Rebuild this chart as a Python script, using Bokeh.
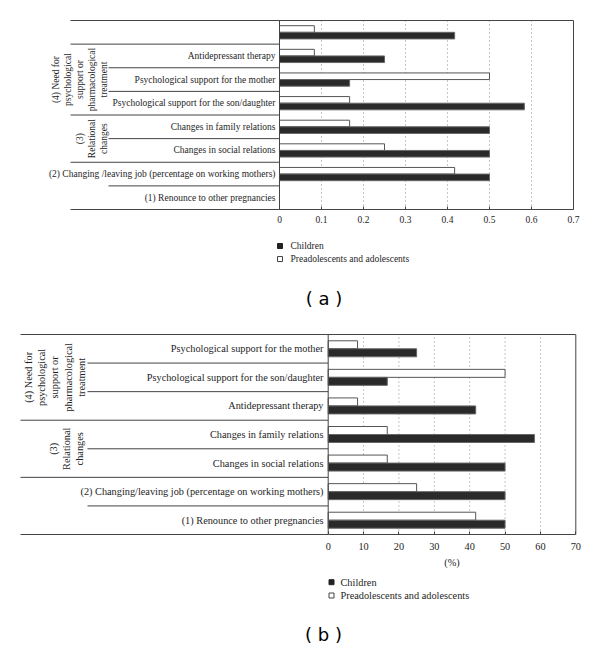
import math
from bokeh.plotting import figure
from bokeh.models import Range1d, LinearAxis, FixedTicker, NumeralTickFormatter
from bokeh.layouts import column
from bokeh.core.properties import value
from bokeh.embed import file_html
from bokeh.resources import INLINE

# ---------------- data ----------------
series_names = ["Children", "Preadolescents and adolescents"]

# panel (a): rows listed top to bottom (proportions)
rows_a = ["",
          "Antidepressant therapy",
          "Psychological support for the mother",
          "Psychological support for the son/daughter",
          "Changes in family relations",
          "Changes in social relations",
          "(2) Changing /leaving job (percentage on working mothers)",
          "(1) Renounce to other pregnancies"]
children_a = [0.417, 0.25, 0.167, 0.583, 0.5, 0.5, 0.5, 0.0]
preado_a = [0.083, 0.083, 0.5, 0.167, 0.167, 0.25, 0.417, 0.0]
ticks_a = [0, 0.1, 0.2, 0.3, 0.4, 0.5, 0.6, 0.7]
groups_a = [("(4) Need for\npsychological\nsupport or\npharmacological\ntreatment", 1, 3),
            ("(3)\nRelational\nchanges", 4, 5)]
full_seps_a = [1, 4, 6, 8]
sub_seps_a = [2, 3, 5, 7]

# panel (b): rows listed top to bottom (%)
rows_b = ["Psychological support for the mother",
          "Psychological support for the son/daughter",
          "Antidepressant therapy",
          "Changes in family relations",
          "Changes in social relations",
          "(2) Changing/leaving job (percentage on working mothers)",
          "(1) Renounce to other pregnancies"]
children_b = [25.0, 16.7, 41.7, 58.3, 50.0, 50.0, 50.0]
preado_b = [8.3, 50.0, 8.3, 16.7, 16.7, 25.0, 41.7]
ticks_b = [0, 10, 20, 30, 40, 50, 60, 70]
groups_b = [("(4) Need for\npsychological\nsupport or\npharmacological\ntreatment", 0, 2),
            ("(3)\nRelational\nchanges", 3, 4)]
full_seps_b = [3, 5, 7]
sub_seps_b = [1, 2, 4, 6]

W = 592
SERIF = "Liberation Serif"
TXT = "#1e1e1e"
LINE = "#444444"


def make_panel(rows, children, preado, ticks, groups, full_seps, sub_seps, H,
               x0px, x1px, ytop, ybot, full_left, sub_left, label_right,
               group_xs, fs, legend_mx, legend_tx, legend_ys, caption, cap_xy,
               tick_standoff, axis_label=None, fmt="0.[0]"):
    n = len(rows)
    xmax = ticks[-1]
    sx = (x1px - x0px) / xmax
    sy = (ybot - ytop) / n

    def xd(px):
        return (px - x0px) / sx

    def yd(py):
        return n - (py - ytop) / sy

    p = figure(width=W, height=H, x_range=Range1d(xd(0), xd(W)),
               y_range=Range1d(yd(H), yd(0)), x_axis_type=None, y_axis_type=None,
               toolbar_location=None, output_backend="svg", min_border=0,
               min_border_left=0, min_border_right=0, min_border_top=0,
               min_border_bottom=0, outline_line_color=None)
    p.background_fill_color = "white"
    p.border_fill_color = "white"

    # dotted grid
    inner = ticks[1:-1]
    p.segment(x0=inner, y0=[0] * len(inner), x1=inner, y1=[n] * len(inner),
              line_color="#8c8c8c", line_dash="1 3", line_width=1)

    yc = [n - i - 0.5 for i in range(n)]
    h = 0.28
    p.hbar(y=[v + h / 2 for v in yc], left=0, right=preado, height=h,
           fill_color="white", line_color="#555555", line_width=1)
    p.hbar(y=[v - h / 2 for v in yc], left=0, right=children, height=h,
           fill_color="#2a2a2a", line_color="#666666", line_width=1)

    # frame lines
    fl = xd(full_left)
    sl = xd(sub_left)
    p.segment(x0=[fl, 0, xmax], y0=[n, 0, 0], x1=[xmax, 0, xmax], y1=[n, n, n],
              line_color=LINE, line_width=1)
    p.segment(x0=[fl] * len(full_seps), y0=[n - k for k in full_seps],
              x1=[0] * len(full_seps), y1=[n - k for k in full_seps],
              line_color=LINE, line_width=1)
    p.segment(x0=[sl] * len(sub_seps), y0=[n - k for k in sub_seps],
              x1=[0] * len(sub_seps), y1=[n - k for k in sub_seps],
              line_color=LINE, line_width=1)

    # row labels
    p.text(x=[xd(label_right)] * n, y=yc, text=rows, text_align="right",
           text_baseline="middle", text_font=value(SERIF),
           text_font_size=f"{fs}px", text_color=TXT)

    # group labels (rotated)
    for (txt, r0, r1), gx in zip(groups, group_xs):
        gy = n - (r0 + r1 + 1) / 2
        p.text(x=[xd(gx)], y=[gy], text=[txt], angle=math.pi / 2,
               text_align="center", text_baseline="middle",
               text_font=value(SERIF), text_font_size=f"{fs}px",
               text_color=TXT, text_line_height=1.2)

    # x axis
    ax = LinearAxis(fixed_location=0, bounds=(0, xmax),
                    ticker=FixedTicker(ticks=ticks),
                    formatter=NumeralTickFormatter(format=fmt))
    ax.major_tick_in = 3
    ax.major_tick_out = 0
    ax.minor_tick_line_color = None
    ax.axis_line_color = LINE
    ax.major_tick_line_color = LINE
    ax.major_label_text_font = SERIF
    ax.major_label_text_font_size = f"{fs}px"
    ax.major_label_text_color = TXT
    ax.major_label_standoff = tick_standoff
    if axis_label:
        ax.axis_label = axis_label
        ax.axis_label_text_font = SERIF
        ax.axis_label_text_font_size = f"{fs}px"
        ax.axis_label_text_font_style = "normal"
        ax.axis_label_text_color = TXT
        ax.axis_label_standoff = 4
    p.add_layout(ax, "below")

    # legend
    p.scatter(x=[xd(legend_mx)] * 2, y=[yd(v) for v in legend_ys], marker="square",
              size=5, fill_color=["#222222", "white"], line_color=["#222222", "#444444"])
    p.text(x=[xd(legend_tx)] * 2, y=[yd(v) for v in legend_ys], text=series_names,
           text_align="left", text_baseline="middle", text_font=value(SERIF),
           text_font_size=f"{fs}px", text_color=TXT)

    # caption
    p.text(x=[xd(cap_xy[0])], y=[yd(cap_xy[1])], text=[caption], text_align="center",
           text_baseline="middle", text_font=value("DejaVu Sans"),
           text_font_size="18px", text_color="#000000")
    return p


HA = 318
HB = 330
pa = make_panel(rows_a, children_a, preado_a, ticks_a, groups_a, full_seps_a, sub_seps_a,
                HA, x0px=279, x1px=573, ytop=20, ybot=209, full_left=70, sub_left=108,
                label_right=275, group_xs=[79.5, 91], fs=9.5,
                legend_mx=279.5, legend_tx=290, legend_ys=[245.5, 258.5],
                caption="( a )", cap_xy=(323.5, 297.5), tick_standoff=6)
pb = make_panel(rows_b, children_b, preado_b, ticks_b, groups_b, full_seps_b, sub_seps_b,
                HB, x0px=327.7, x1px=575.3, ytop=16, ybot=216, full_left=20, sub_left=87,
                label_right=323, group_xs=[54.5, 66], fs=10.3,
                legend_mx=331, legend_tx=340, legend_ys=[263.7, 277],
                caption="( b )", cap_xy=(323, 316), tick_standoff=8,
                axis_label="(%)", fmt="0")

layout = column(pa, pb, spacing=0)
open("out.html", "w").write(file_html(layout, INLINE))
